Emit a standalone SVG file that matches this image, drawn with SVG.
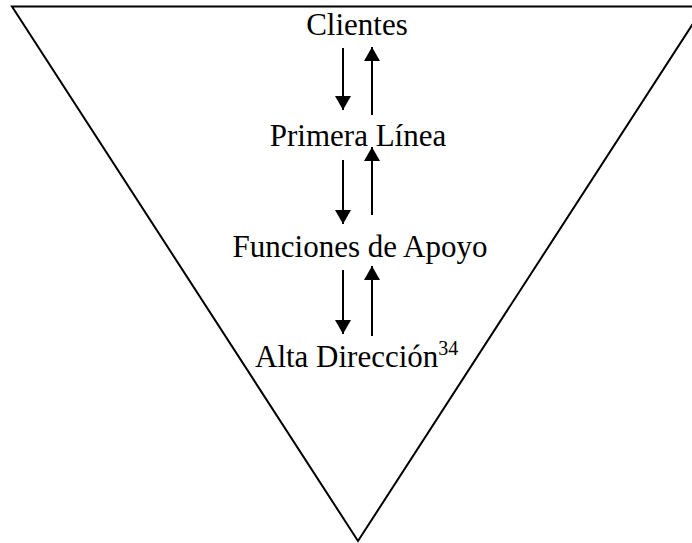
<svg xmlns="http://www.w3.org/2000/svg" width="692" height="543" viewBox="0 0 692 543">
<style>
.t{font-family:"Liberation Serif","Times New Roman",serif;font-size:31px;fill:#000}
.c{stroke:#000;stroke-width:2;fill:none}
</style>
<defs>
<marker id="ah" viewBox="0 0 14 16" refX="14" refY="8" markerWidth="7" markerHeight="8" markerUnits="strokeWidth" orient="auto"><path d="M0,0 L14,8 L0,16 Z" fill="#000"/></marker>
</defs>
<rect width="692" height="543" fill="#fff"/>
<g id="triangle"><path class="c" d="M12,6.5 L704,6.5 L358,541 Z"/></g>
<g id="clientes"><text class="t" x="357" y="35" text-anchor="middle">Clientes</text></g>
<g id="primera"><text class="t" x="358" y="146" text-anchor="middle">Primera Línea</text></g>
<g id="funciones"><text class="t" x="360" y="257" text-anchor="middle">Funciones de Apoyo</text></g>
<g id="alta"><text class="t" x="255" y="367">Alta Dirección<tspan font-size="20" dy="-12">34</tspan></text></g>
<g id="connectors">
<line class="c" x1="343" y1="48" x2="343" y2="110" marker-end="url(#ah)"/>
<line class="c" x1="372" y1="115" x2="372" y2="47" marker-end="url(#ah)"/>
<line class="c" x1="343" y1="160" x2="343" y2="224" marker-end="url(#ah)"/>
<line class="c" x1="372" y1="215" x2="372" y2="147" marker-end="url(#ah)"/>
<line class="c" x1="343" y1="270" x2="343" y2="334" marker-end="url(#ah)"/>
<line class="c" x1="372" y1="336" x2="372" y2="266" marker-end="url(#ah)"/>
</g>
</svg>
